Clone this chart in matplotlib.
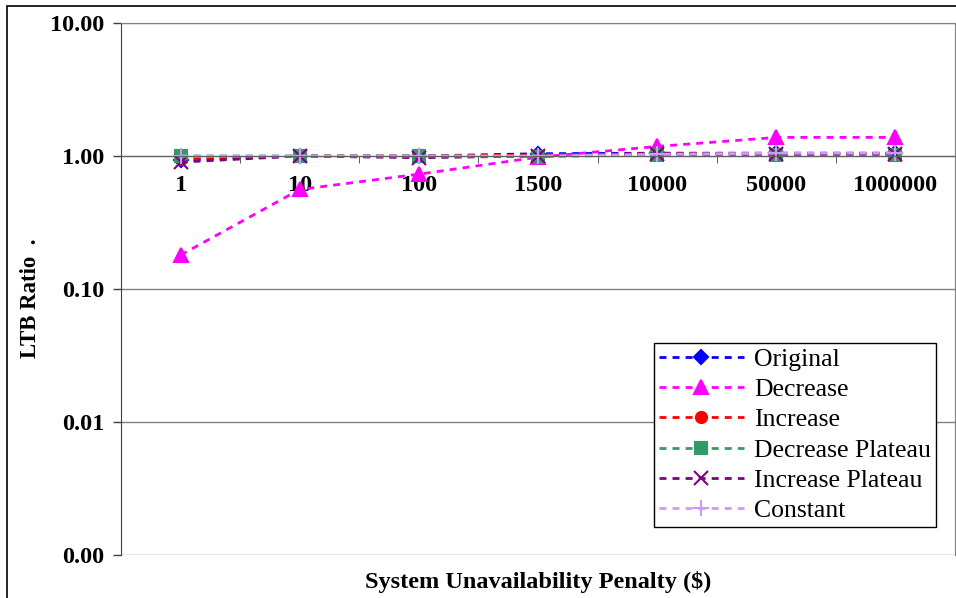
import numpy as np
import matplotlib.pyplot as plt
from matplotlib.patches import Rectangle
from matplotlib.ticker import FixedLocator, NullFormatter

plt.rcParams['font.family'] = ['Liberation Serif', 'DejaVu Serif']

penalty = ['1', '10', '100', '1500', '10000', '50000', '1000000']
original = [0.93, 1.0, 1.0, 1.04, 1.05, 1.05, 1.05]
decrease = [0.18, 0.56, 0.73, 0.98, 1.18, 1.38, 1.38]
increase = [0.95, 1.0, 1.0, 1.02, 1.04, 1.04, 1.04]
dec_plateau = [1.0, 1.0, 1.0, 0.99, 1.02, 1.02, 1.02]
inc_plateau = [0.9, 1.0, 0.97, 1.0, 1.04, 1.04, 1.04]
constant = [1.0, 1.0, 1.0, 1.0, 1.03, 1.05, 1.05]

x = np.arange(len(penalty))
W, H = 956, 598

fig = plt.figure(figsize=(W/100, H/100), dpi=100)
ax = fig.add_axes([121/W, 1-555/H, 834/W, 532/H])

dash = (0, (2.5, 2.2))
series = [
    (original, 'Original', '#0000FF', 'D', 7),
    (decrease, 'Decrease', '#FF00FF', '^', 10),
    (increase, 'Increase', '#FF0000', 'o', 8),
    (dec_plateau, 'Decrease Plateau', '#339966', 's', 8),
    (inc_plateau, 'Increase Plateau', '#800080', 'x', 10),
    (constant, 'Constant', '#CC99FF', '+', 11),
]
for vals, lab, col, mk, ms in series:
    ax.plot(x, vals, linestyle=dash, color=col, lw=2, marker=mk,
            markersize=ms, markeredgewidth=1.5, label=lab, clip_on=False)

ax.set_yscale('log')
ax.set_ylim(0.001, 10)
ax.set_xlim(-0.5, len(penalty) - 0.5)
ax.set_yticks([0.001, 0.01, 0.1, 1, 10])
ax.set_yticklabels(['0.00', '0.01', '0.10', '1.00', '10.00'],
                   fontsize=17.5, fontweight='bold')
ax.yaxis.set_minor_locator(FixedLocator([]))
ax.tick_params(axis='y', length=6, width=1, color='#404040', pad=6)
ax.grid(axis='y', color='#808080', lw=1)

ax.spines['bottom'].set_position(('data', 1))
ax.spines['bottom'].set_color('#606060')
ax.spines['top'].set_color('#808080')
ax.spines['right'].set_color('#808080')
ax.spines['left'].set_color('#404040')
ax.set_xticks(x)
ax.set_xticklabels(penalty, fontsize=17.5, fontweight='bold')
ax.set_xticks(np.arange(len(penalty) + 1) - 0.5, minor=True)
ax.xaxis.set_minor_formatter(NullFormatter())
ax.tick_params(axis='x', which='major', length=0, pad=14)
ax.tick_params(axis='x', which='minor', length=5, color='#404040')

fig.text(538/W, 1-582/H, 'System Unavailability Penalty ($)', fontsize=17.5,
         fontweight='bold', ha='center', va='center')
fig.text(31/W, 1-298/H, 'LTB Ratio  .', fontsize=16.5, fontweight='bold',
         rotation=90, ha='center', va='center')

leg = ax.legend(loc='lower right', bbox_to_anchor=(936/W, 1-527/H),
                bbox_transform=fig.transFigure, fontsize=18.5, frameon=True,
                fancybox=False, edgecolor='black', framealpha=1,
                handlelength=3.3, handletextpad=0.4, labelspacing=0.28,
                borderpad=0.2, borderaxespad=0)
leg.get_frame().set_linewidth(1)

fig.patches.append(Rectangle((7/W, -0.01), 2, 1 - 6/H + 0.01,
                             transform=fig.transFigure, fill=False,
                             edgecolor='black', lw=1.2))

plt.savefig('out.png', dpi=100)
